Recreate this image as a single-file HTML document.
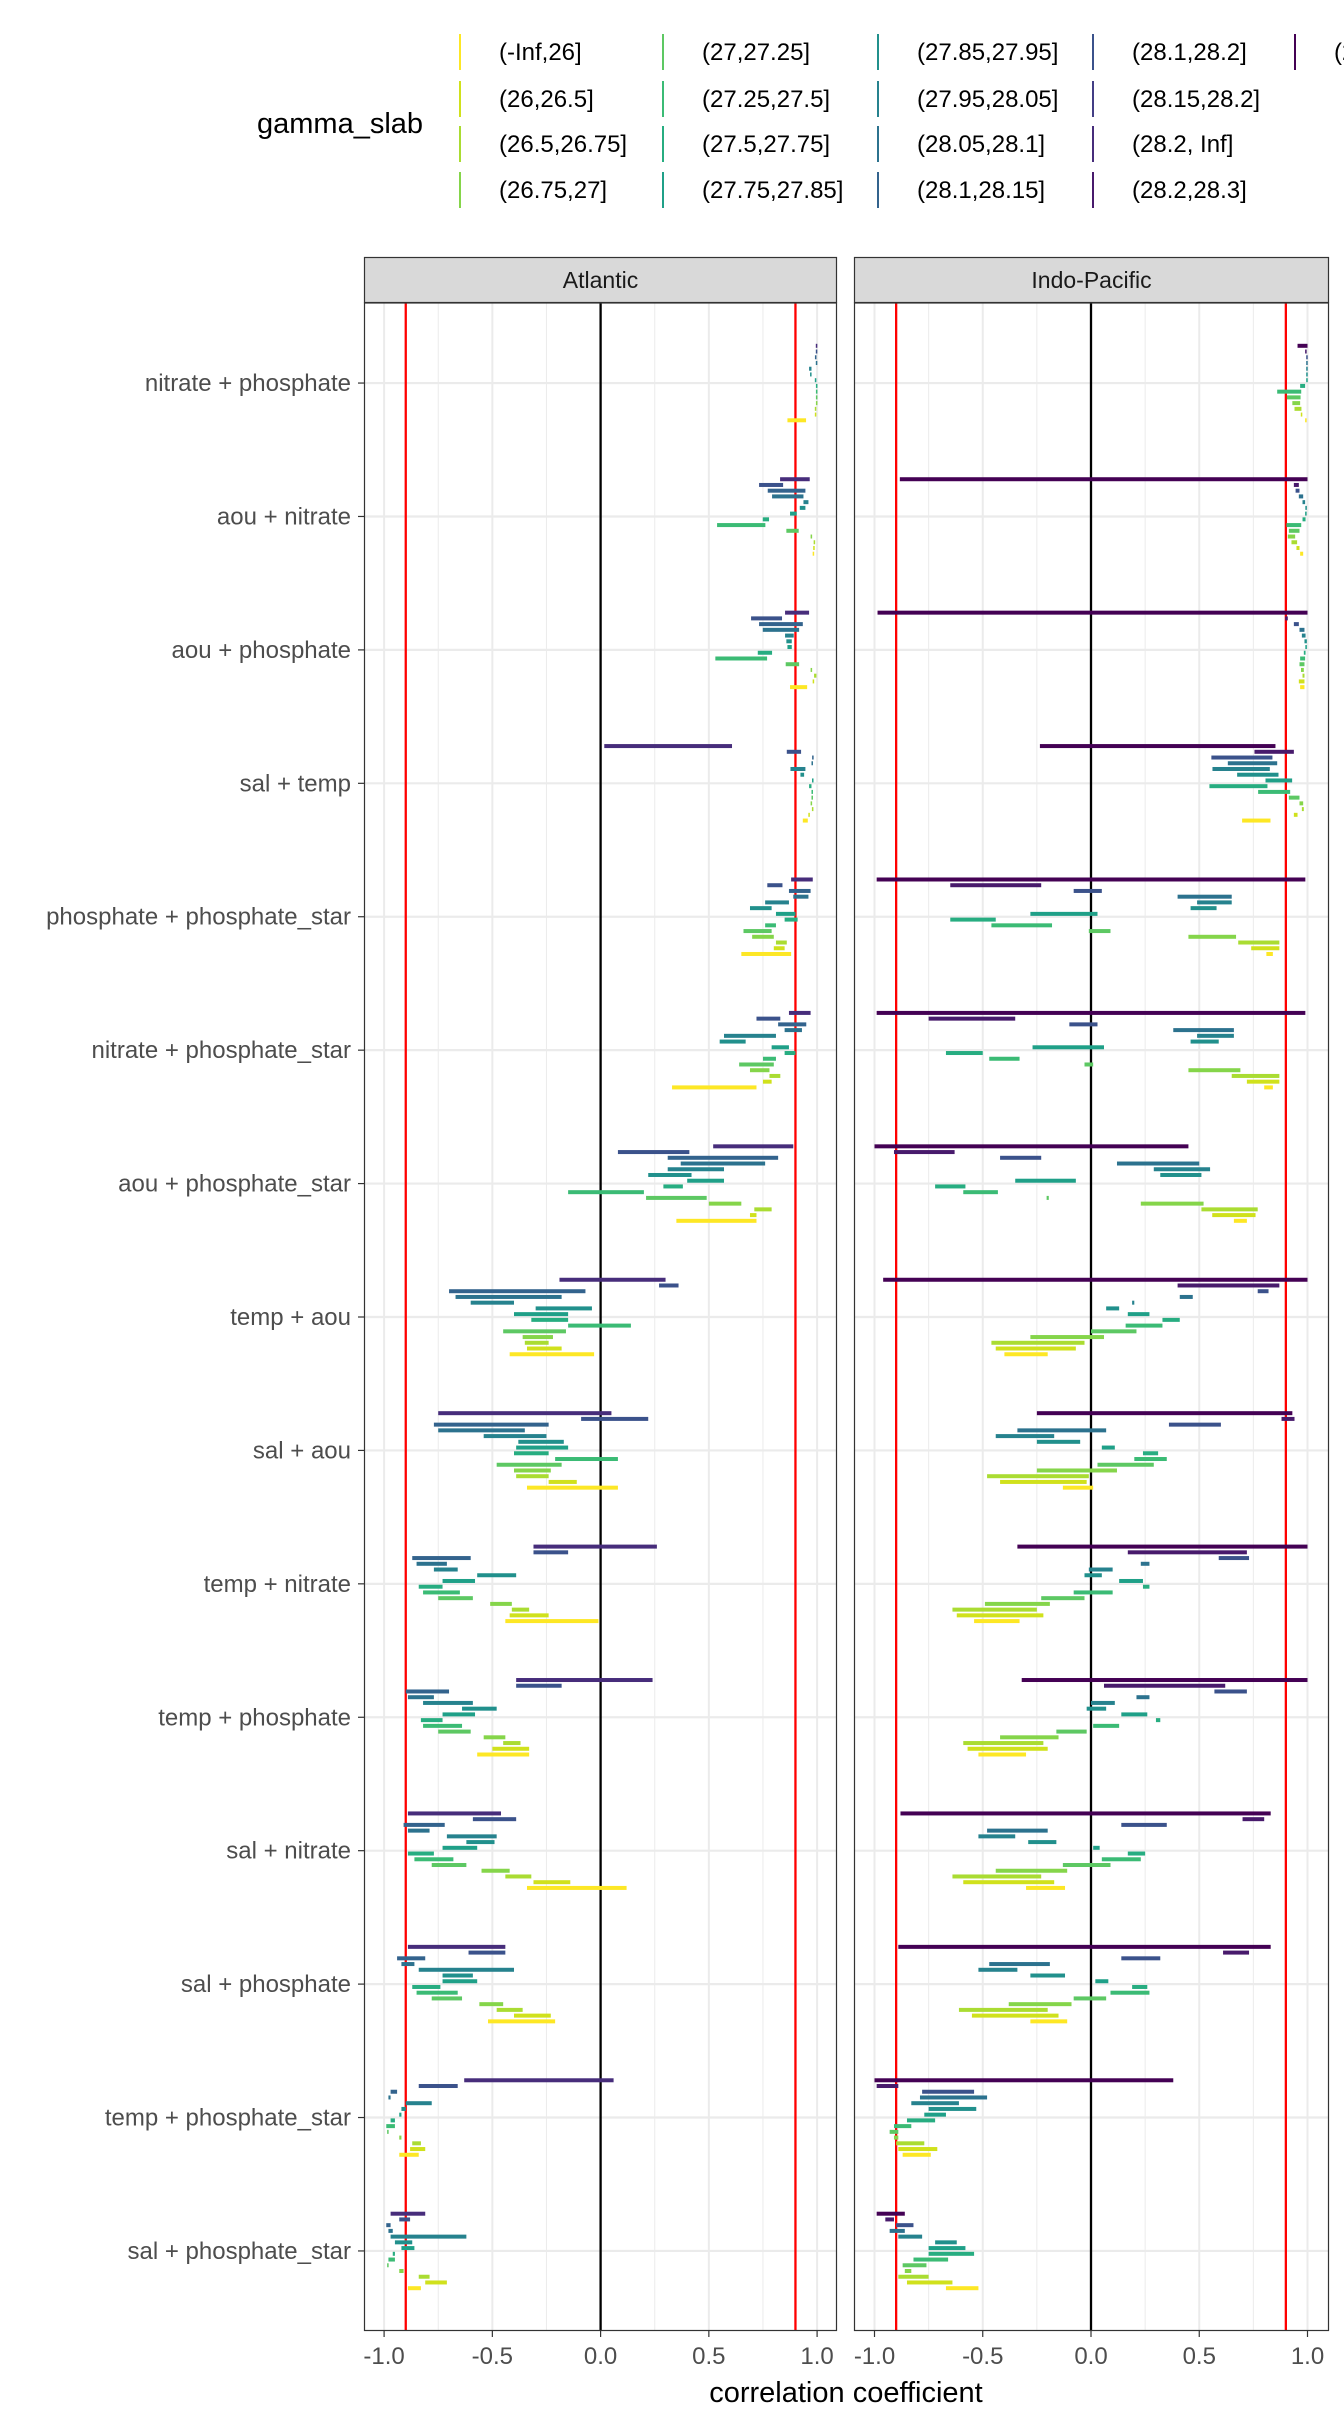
<!DOCTYPE html>
<html><head><meta charset="utf-8"><style>
html,body{margin:0;padding:0;background:#fff;}
svg{display:block;font-family:"Liberation Sans",sans-serif;}
</style></head><body>
<svg id="chart" width="1344" height="2419" viewBox="0 0 1344 2419" xmlns="http://www.w3.org/2000/svg">
<g id="legend"></g>
<g id="panels"></g>
<g id="axes"></g>
<text x="846" y="2402" font-size="29" text-anchor="middle" fill="#000">correlation coefficient</text>
</svg>
<script>
const categories = ["nitrate + phosphate","aou + nitrate","aou + phosphate","sal + temp","phosphate + phosphate_star","nitrate + phosphate_star","aou + phosphate_star","temp + aou","sal + aou","temp + nitrate","temp + phosphate","sal + nitrate","sal + phosphate","temp + phosphate_star","sal + phosphate_star"];
const panelNames = ["Atlantic","Indo-Pacific"];
const xTicks = [-1,-0.5,0,0.5,1];
const xTickLabels = ["-1.0","-0.5","0.0","0.5","1.0"];
const xMinor = [-0.75,-0.25,0.25,0.75];
const refLines = [-0.9,0.9];
const legendLabels = ["(-Inf,26]","(26,26.5]","(26.5,26.75]","(26.75,27]","(27,27.25]","(27.25,27.5]","(27.5,27.75]","(27.75,27.85]","(27.85,27.95]","(27.95,28.05]","(28.05,28.1]","(28.1,28.15]","(28.1,28.2]","(28.15,28.2]","(28.2, Inf]","(28.2,28.3]","(28.3, Inf]"];
const atlantic = [
[[.995,1],[.995,1],[.99,.997],[.995,1],[.963,.974],[.968,.974],[.99,.996],[.996,1],[.996,1],[.996,1],[.996,1],[.99,.996],[.99,.996],[.863,.949]],
[[.829,.966],[.732,.843],[.772,.946],[.792,.937],[.937,.96],[.92,.946],[.875,.906],[.749,.778],[.538,.761],[.858,.915],[.97,.977],[.985,.99],[.983,.988],[.98,.986]],
[[.852,.963],[.695,.838],[.732,.934],[.749,.917],[.852,.892],[.858,.883],[.863,.883],[.726,.792],[.53,.769],[.855,.917],[.97,.977],[.986,.997],[.98,.986],[.875,.954]],
[[.017,.607],[.86,.926],[.977,.984],[.975,.98],[.877,.946],[.923,.94],[.977,.983],[.963,.974],[.975,.98],[.975,.98],[.97,.977],[.977,.982],[.96,.966],[.934,.957]],
[[.88,.98],[.77,.84],[.87,.97],[.89,.96],[.76,.87],[.69,.79],[.81,.90],[.85,.91],[.76,.81],[.66,.79],[.70,.80],[.81,.86],[.80,.85],[.65,.88]],
[[.87,.97],[.72,.83],[.82,.95],[.85,.93],[.57,.81],[.55,.67],[.79,.87],[.85,.90],[.75,.81],[.64,.80],[.69,.78],[.78,.83],[.75,.79],[.33,.72]],
[[.52,.89],[.08,.41],[.31,.82],[.37,.76],[.31,.57],[.22,.42],[.40,.57],[.29,.38],[-.15,.20],[.21,.49],[.50,.65],[.71,.79],[.69,.72],[.35,.72]],
[[-.19,.30],[.27,.36],[-.70,-.07],[-.67,-.18],[-.60,-.40],[-.30,-.04],[-.40,-.15],[-.32,-.15],[-.15,.14],[-.45,-.16],[-.36,-.22],[-.35,-.24],[-.34,-.18],[-.42,-.03]],
[[-.75,.05],[-.09,.22],[-.77,-.24],[-.75,-.35],[-.54,-.25],[-.38,-.17],[-.39,-.15],[-.40,-.24],[-.21,.08],[-.48,-.18],[-.40,-.23],[-.39,-.24],[-.24,-.11],[-.34,.08]],
[[-.31,.26],[-.31,-.15],[-.87,-.60],[-.85,-.71],[-.77,-.66],[-.57,-.39],[-.73,-.58],[-.84,-.73],[-.82,-.65],[-.75,-.59],[-.51,-.41],[-.41,-.33],[-.42,-.24],[-.44,-.01]],
[[-.39,.24],[-.39,-.18],[-.90,-.70],[-.89,-.77],[-.82,-.59],[-.64,-.48],[-.73,-.58],[-.83,-.73],[-.82,-.64],[-.75,-.60],[-.54,-.44],[-.45,-.37],[-.50,-.33],[-.57,-.33]],
[[-.89,-.46],[-.59,-.39],[-.91,-.72],[-.89,-.79],[-.71,-.48],[-.62,-.49],[-.73,-.57],[-.89,-.77],[-.86,-.68],[-.78,-.62],[-.55,-.42],[-.44,-.32],[-.31,-.14],[-.34,.12]],
[[-.89,-.44],[-.61,-.44],[-.94,-.81],[-.92,-.86],[-.84,-.40],[-.73,-.59],[-.73,-.57],[-.87,-.74],[-.85,-.66],[-.78,-.64],[-.56,-.45],[-.48,-.36],[-.40,-.23],[-.52,-.21]],
[[-.63,.06],[-.84,-.66],[-.97,-.94],[-.98,-.97],[-.90,-.78],[-.92,-.90],[-.93,-.92],[-.97,-.95],[-.99,-.95],[-.985,-.98],[-.93,-.92],[-.87,-.83],[-.88,-.81],[-.93,-.84]],
[[-.97,-.81],[-.93,-.88],[-.99,-.97],[-.98,-.96],[-.97,-.62],[-.95,-.87],[-.92,-.86],[-.96,-.95],[-.98,-.95],[-.985,-.98],[-.93,-.91],[-.84,-.79],[-.81,-.71],[-.89,-.83]]
];
const indoPacific = [
[[.954,1],[.99,.995],[.995,1],[.995,1],[.995,1],[.995,1],[.995,1],[.966,.989],[.86,.971],[.905,.968],[.93,.966],[.94,.972],[.97,.975],[.99,.995]],
[[-.883,1],[.937,.96],[.945,.963],[.96,.98],[.977,.989],[.99,.997],[.99,.995],[.977,.991],[.903,.971],[.914,.963],[.909,.943],[.926,.952],[.949,.963],[.966,.98]],
[[-.986,1],[.897,.909],[.937,.96],[.963,.986],[.974,.991],[.986,.997],[.99,.997],[.983,.991],[.966,.989],[.963,.986],[.97,.983],[.977,.986],[.96,.986],[.966,.986]],
[[-.236,.852],[.755,.937],[.556,.838],[.632,.86],[.561,.826],[.675,.866],[.806,.929],[.547,.815],[.772,.92],[.914,.963],[.963,.98],[.974,.983],[.937,.954],[.698,.829]],
[[-.99,.99],[-.65,-.23],[-.08,.05],[.40,.65],[.49,.65],[.46,.58],[-.28,.03],[-.65,-.44],[-.46,-.18],[-.01,.09],[.45,.67],[.68,.87],[.74,.87],[.81,.84]],
[[-.99,.99],[-.75,-.35],[-.10,.03],[.38,.66],[.49,.66],[.46,.59],[-.27,.06],[-.67,-.50],[-.47,-.33],[-.03,.01],[.45,.69],[.65,.87],[.72,.87],[.80,.84]],
[[-1.0,.45],[-.91,-.63],[-.42,-.23],[.12,.50],[.29,.55],[.32,.51],[-.35,-.07],[-.72,-.58],[-.59,-.43],[-.205,-.195],[.23,.52],[.51,.77],[.56,.76],[.66,.72]],
[[-.96,1.0],[.40,.87],[.77,.82],[.41,.47],[.19,.20],[.07,.13],[.17,.27],[.33,.41],[.16,.33],[0,.21],[-.28,.06],[-.46,-.03],[-.44,-.07],[-.40,-.20]],
[[-.25,.93],[.88,.94],[.36,.60],[-.34,.07],[-.44,-.17],[-.25,-.05],[.05,.11],[.24,.31],[.20,.35],[.03,.29],[-.25,.12],[-.48,-.01],[-.42,-.02],[-.13,.01]],
[[-.34,1.0],[.17,.72],[.59,.73],[.23,.27],[-.01,.10],[-.03,.05],[.13,.24],[.24,.27],[-.08,.10],[-.23,-.03],[-.49,-.19],[-.64,-.25],[-.62,-.22],[-.54,-.33]],
[[-.32,1.0],[.06,.62],[.57,.72],[.21,.27],[0,.11],[-.02,.07],[.14,.26],[.30,.32],[.01,.13],[-.16,-.02],[-.42,-.15],[-.59,-.22],[-.57,-.20],[-.52,-.30]],
[[-.88,.83],[.70,.80],[.14,.35],[-.48,-.20],[-.52,-.35],[-.29,-.16],[.01,.04],[.17,.25],[.05,.23],[-.13,.09],[-.44,-.11],[-.64,-.23],[-.59,-.17],[-.30,-.12]],
[[-.89,.83],[.61,.73],[.14,.32],[-.47,-.19],[-.52,-.34],[-.28,-.12],[.02,.08],[.19,.26],[.09,.27],[-.08,.07],[-.38,-.09],[-.61,-.20],[-.55,-.15],[-.28,-.11]],
[[-1.0,.38],[-.99,-.89],[-.78,-.54],[-.79,-.48],[-.83,-.61],[-.75,-.53],[-.77,-.67],[-.85,-.72],[-.91,-.83],[-.93,-.89],[-.91,-.89],[-.90,-.77],[-.89,-.71],[-.87,-.74]],
[[-.99,-.86],[-.95,-.91],[-.90,-.82],[-.93,-.86],[-.89,-.78],[-.72,-.62],[-.75,-.58],[-.75,-.54],[-.82,-.66],[-.87,-.76],[-.86,-.83],[-.89,-.75],[-.85,-.64],[-.67,-.52]]
];

const NS = "http://www.w3.org/2000/svg";
function mk(tag, attrs, parent){const e=document.createElementNS(NS,tag);for(const k in attrs)e.setAttribute(k,attrs[k]);parent.appendChild(e);return e;}
const legendColors = ["#FDE725","#D0E11C","#AADC32","#85D54A","#5DC863","#3BBB75","#27AD81","#1FA088","#21908C","#26828E","#2C728E","#33638D","#3B528B","#433E85","#472D7B","#481A6C","#440154"];
const slotColorsAtl = ["#472D7B","#3B528B","#33638D","#2C728E","#26828E","#21908C","#1FA088","#27AD81","#3BBB75","#5DC863","#85D54A","#AADC32","#D0E11C","#FDE725"];
const slotColorsIndo = ["#440154","#481A6C","#3B528B","#2C728E","#26828E","#21908C","#1FA088","#27AD81","#3BBB75","#5DC863","#85D54A","#AADC32","#D0E11C","#FDE725"];

const panelTop = 303, panelBottom = 2331;
const panelX = [[364,837],[854,1329]];
const zeroX = [600.6,1091];
const unit = 216.5;
function xScale(p, v){return zeroX[p] + v*unit;}
const catStep = (panelBottom-panelTop)/15.2;
function yScale(i){return panelTop + (0.6+i)*catStep;}
const slotStep = 5.73;

const lg = document.getElementById('legend');
const lt = mk('text',{x:257,y:133,'font-size':29,fill:'#000'},lg);
lt.textContent = 'gamma_slab';


const colX = [460,663,878,1093,1295], rowY = [52,99,144,190];
legendLabels.forEach((lab,i)=>{
  const c = Math.floor(i/4), r = i%4;
  const g = mk('g',{},lg);
  
  
  mk('line',{x1:colX[c],x2:colX[c],y1:rowY[r]-18,y2:rowY[r]+18,stroke:legendColors[i],'stroke-width':2},g);
  const t = mk('text',{x:colX[c]+39,y:rowY[r]+8,'font-size':24,fill:'#000'},g);
  t.textContent = lab;
});

const pg = document.getElementById('panels');
[atlantic, indoPacific].forEach((data,p)=>{
  const [L,R] = panelX[p];
  const g = mk('g',{},pg);
  
  
  const st = mk('rect',{x:L+0.5,y:257.5,width:R-L-1,height:45,fill:'#d9d9d9',stroke:'#333','stroke-width':1.2},g);
  
  
  const stt = mk('text',{x:(L+R)/2,y:288,'font-size':23,'text-anchor':'middle',fill:'#1a1a1a'},g);
  stt.textContent = panelNames[p];
  mk('rect',{x:L,y:panelTop,width:R-L,height:panelBottom-panelTop,fill:'#fff'},g);
  xMinor.forEach(v=>mk('line',{x1:xScale(p,v),x2:xScale(p,v),y1:panelTop,y2:panelBottom,stroke:'#ebebeb','stroke-width':1},g));
  xTicks.forEach(v=>mk('line',{x1:xScale(p,v),x2:xScale(p,v),y1:panelTop,y2:panelBottom,stroke:'#ebebeb','stroke-width':2},g));
  categories.forEach((c,i)=>mk('line',{x1:L,x2:R,y1:yScale(i),y2:yScale(i),stroke:'#ebebeb','stroke-width':2.2},g));
  const z = mk('line',{x1:xScale(p,0),x2:xScale(p,0),y1:panelTop,y2:panelBottom,stroke:'#000','stroke-width':2.3},g);
  
  
  refLines.forEach(v=>{
    const r = mk('line',{x1:xScale(p,v),x2:xScale(p,v),y1:panelTop,y2:panelBottom,stroke:'#ff0000','stroke-width':2.3},g);
    
    
  });
  const cols = p===0?slotColorsAtl:slotColorsIndo;
  data.forEach((rows,ci)=>{
    const n = rows.length;
    rows.forEach((seg,s)=>{
      const y = yScale(ci) + (s-(n-1)/2)*slotStep;
      let x1 = xScale(p,seg[0]), x2 = xScale(p,seg[1]);
      if (x2-x1<1.5){const m=(x1+x2)/2;x1=m-0.75;x2=m+0.75;}
      const b = mk('rect',{x:x1,y:y-2,width:x2-x1,height:4,fill:cols[s]},g);
      
      
    });
  });
  const bd = mk('rect',{x:L+0.5,y:panelTop,width:R-L-1,height:panelBottom-panelTop-0.5,fill:'none',stroke:'#333','stroke-width':1.2},g);
  
  
  xTicks.forEach((v,k)=>{
    mk('line',{x1:xScale(p,v),x2:xScale(p,v),y1:panelBottom,y2:panelBottom+6,stroke:'#333','stroke-width':1.2},g);
    const t = mk('text',{x:xScale(p,v),y:2364,'font-size':24,'text-anchor':'middle',fill:'#4d4d4d'},g);
    t.textContent = xTickLabels[k];
    
    
  });
});

const ax = document.getElementById('axes');
categories.forEach((c,i)=>{
  const y = yScale(i);
  mk('line',{x1:358,x2:364,y1:y,y2:y,stroke:'#333','stroke-width':1.2},ax);
  const t = mk('text',{x:351,y:y+8,'font-size':24,'text-anchor':'end',fill:'#4d4d4d'},ax);
  t.textContent = c;
  
  
});
</script>
</body></html>
